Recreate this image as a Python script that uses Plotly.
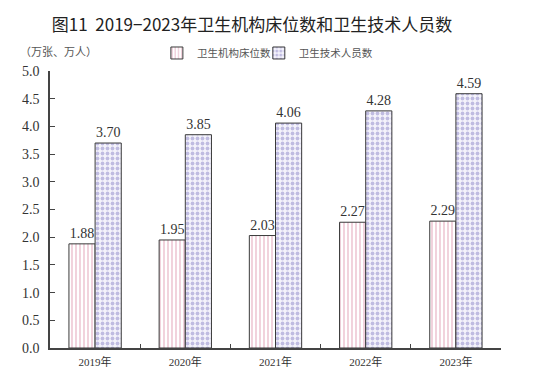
import plotly.graph_objects as go

years = ["2019年", "2020年", "2021年", "2022年", "2023年"]
beds = [1.88, 1.95, 2.03, 2.27, 2.29]
staff = [3.70, 3.85, 4.06, 4.28, 4.59]
yticks = [0.0, 0.5, 1.0, 1.5, 2.0, 2.5, 3.0, 3.5, 4.0, 4.5, 5.0]

serif = "Liberation Serif, DejaVu Serif, Noto Sans CJK SC, serif"
cjk = "Noto Sans CJK SC, sans-serif"

fig = go.Figure()
fig.add_trace(go.Bar(
    x=years, y=beds, name="卫生机构床位数", legend="legend",
    text=[f"{v:.2f}" for v in beds], textposition="outside",
    textfont=dict(family=serif, size=14, color="#333"),
    marker=dict(color="white", line=dict(color="#3a3a3a", width=1),
                pattern=dict(shape="|", fgcolor="#d77f9c", bgcolor="#ffffff",
                             size=4, solidity=0.35)),
    cliponaxis=False,
))
fig.add_trace(go.Bar(
    x=years, y=staff, name="卫生技术人员数", legend="legend2",
    text=[f"{v:.2f}" for v in staff], textposition="outside",
    textfont=dict(family=serif, size=14, color="#333"),
    marker=dict(color="white", line=dict(color="#3a3a3a", width=1),
                pattern=dict(shape=".", fgcolor="#8c86c8", bgcolor="#f4f3fb",
                             size=5, solidity=0.45)),
    cliponaxis=False,
))

legend_style = dict(orientation="h", yanchor="middle", y=1.065, xanchor="left",
                    font=dict(family=serif, size=10.5, color="#555"),
                    bgcolor="rgba(0,0,0,0)", itemwidth=30)

fig.update_layout(
    width=548, height=379,
    margin=dict(l=50, r=47, t=71, b=31, autoexpand=False),
    paper_bgcolor="white", plot_bgcolor="white",
    barmode="group", bargap=0.42, bargroupgap=0,
    title=dict(text="图11  2019−2023年卫生机构床位数和卫生技术人员数",
               x=252 / 548, xanchor="center", y=0.935, yanchor="middle",
               font=dict(family=cjk, size=17, color="#222")),
    legend=dict(x=0.237, **legend_style),
    legend2=dict(x=0.463, **legend_style),
    showlegend=True,
    font=dict(family=serif, color="#333"),
)
fig.update_xaxes(
    showline=True, linecolor="#444", linewidth=1.5,
    ticks="inside", tickson="boundaries", ticklen=4, tickcolor="#444",
    tickfont=dict(family=serif, size=11, color="#333"),
    ticklabelstandoff=3,
    showgrid=False, automargin=False,
)
fig.update_yaxes(
    range=[0, 5], tickvals=yticks, ticktext=[f"{v:.1f}" for v in yticks],
    showline=True, linecolor="#444", linewidth=1.5,
    ticks="inside", ticklen=5, tickcolor="#444",
    tickfont=dict(family=serif, size=14, color="#333"),
    ticklabelstandoff=6,
    showgrid=False, zeroline=False, automargin=False,
)
fig.add_annotation(text="（万张、万人）", xref="paper", yref="paper",
                   x=-0.07, y=1.068, xanchor="left", yanchor="middle",
                   showarrow=False, font=dict(family=serif, size=11, color="#555"))

fig.write_html("out.html", config={"displayModeBar": False},
               post_script="document.body.style.margin='0';")
